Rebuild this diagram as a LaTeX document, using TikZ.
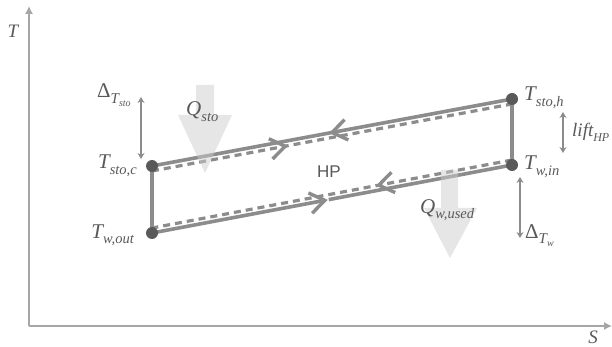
\documentclass[tikz,border=0pt]{standalone}
\usepackage{fontspec}
\setmainfont{Liberation Serif}
\setsansfont{Liberation Sans}
\usetikzlibrary{arrows.meta,calc}
\definecolor{axisc}{HTML}{A6A6A6}
\definecolor{linec}{HTML}{8C8C8C}
\definecolor{dotc}{HTML}{595959}
\definecolor{txtc}{HTML}{595959}
\definecolor{bigc}{HTML}{CDCDCD}
\newcommand\lbT[2]{{\fontsize{21}{21}\selectfont\itshape #1}\raisebox{-5.5pt}{\fontsize{14.5}{14.5}\selectfont\itshape #2}}
\newcommand\lbL[2]{{\fontsize{19}{19}\selectfont\itshape #1}\raisebox{-5pt}{\fontsize{12}{12}\selectfont\itshape #2}}
\newcommand\lbD[2]{{\fontsize{21}{21}\selectfont Δ}\raisebox{-5.5pt}{\fontsize{15}{15}\selectfont\itshape #1\raisebox{-3pt}{\fontsize{10}{10}\selectfont #2}}}
\begin{document}
\begin{tikzpicture}[x=1pt,y=-1pt,
  lbl/.style={text=txtc, inner sep=0pt},
  solidl/.style={draw=linec, line width=3.6pt},
  dashl/.style={draw=linec, line width=3.2pt, dash pattern=on 7pt off 5pt},
  vl/.style={draw=linec, line width=3.6pt},
  chevl/.style={draw=linec, line width=3.4pt, line join=miter},
  dotn/.style={circle, fill=dotc, minimum size=12pt, inner sep=0pt},
  bigarr/.style={fill=bigc, fill opacity=0.5, draw=none},
  dbl/.style={draw=linec, line width=1.3pt, {Stealth[length=6pt,width=7pt]}-{Stealth[length=6pt,width=7pt]}},
  axisl/.style={draw=axisc, line width=1.3pt, -{Latex[length=8pt,width=8pt]}}
]
\useasboundingbox (0,0) rectangle (612,347);
% axes
\coordinate (o) at (29,326);
\coordinate (ytop) at (29,6);
\coordinate (xend) at (612,326);
\draw[axisl] (o) -- (ytop);
\draw[axisl] (o) -- (xend);
\node[lbl, font=\fontsize{19}{19}\selectfont\itshape] (tlab) at (13,31) {T};
\node[lbl, font=\fontsize{19}{19}\selectfont\itshape] (slab) at (593,337) {S};
% state points
\coordinate (tsc) at (152,166);
\coordinate (tsh) at (512,99);
\coordinate (two) at (152,233);
\coordinate (twi) at (512,165);
\coordinate (tsc2) at ($(tsc)+(0,5)$);
\coordinate (tsh2) at ($(tsh)+(0,5)$);
\coordinate (two2) at ($(two)+(0,-5)$);
\coordinate (twi2) at ($(twi)+(0,-5)$);
\coordinate (m1) at ($(tsh)!0.5!(tsc)$);
\coordinate (m2) at ($(tsc2)!0.37!(tsh2)$);
\coordinate (m3) at ($(two)!0.48!(twi)$);
\coordinate (m4) at ($(twi2)!0.37!(two2)$);
% lines
\draw[solidl] (tsh) -- (tsc);
\draw[dashl] (tsc2) -- (tsh2);
\draw[solidl] (two) -- (m3);
\draw[solidl] ($(m3)!4pt!(twi)$) -- (twi);
\draw[dashl] (twi2) -- (two2);
\draw[vl] (tsc) -- (two);
\draw[vl] (tsh) -- (twi);
% chevron heads
\draw[chevl] ($(m1)!18pt!35:(tsh)$) -- (m1) -- ($(m1)!18pt!-35:(tsh)$);
\draw[chevl] ($(m2)!18pt!35:(tsc2)$) -- (m2) -- ($(m2)!18pt!-35:(tsc2)$);
\draw[chevl] ($(m3)!18pt!35:(two)$) -- (m3) -- ($(m3)!18pt!-35:(two)$);
\draw[chevl] ($(m4)!18pt!35:(twi2)$) -- (m4) -- ($(m4)!18pt!-35:(twi2)$);
% big heat arrows
\path[bigarr] (196,85) -- (214,85) -- (214,115) -- (232,115) -- (205,173) -- (178,115) -- (196,115) -- cycle;
\path[bigarr] (441,170) -- (458,170) -- (458,208) -- (477,208) -- (450,258) -- (424,208) -- (441,208) -- cycle;
% dots
\node[dotn] (dtsc) at (tsc) {};
\node[dotn] (dtsh) at (tsh) {};
\node[dotn] (dtwo) at (two) {};
\node[dotn] (dtwi) at (twi) {};
% double arrows
\coordinate (ds1) at (141,97);
\coordinate (ds2) at (141,159);
\draw[dbl] (ds1) -- (ds2);
\coordinate (lh1) at (563,112);
\coordinate (lh2) at (563,153);
\draw[dbl] (lh1) -- (lh2);
\coordinate (dw1) at (520,177);
\coordinate (dw2) at (520,238);
\draw[dbl] (dw1) -- (dw2);
% labels
\node[lbl, anchor=base west] (ldts) at (97,98) {\lbD{T}{sto}};
\node[lbl, anchor=base east] (ltsc) at (137,169) {\lbT{T}{sto,c}};
\node[lbl, anchor=base east] (ltwo) at (134,238) {\lbT{T}{w,out}};
\node[lbl, anchor=base west] (ltsh) at (524,101) {\lbT{T}{sto,h}};
\node[lbl, anchor=base west] (ltwi) at (524,170) {\lbT{T}{w,in}};
\node[lbl, anchor=base west] (llift) at (572,137) {\lbL{lift}{HP}};
\node[lbl, anchor=base west] (ldtw) at (525,238) {\lbD{T}{w}};
\node[lbl, anchor=base west] (lqs) at (186,116) {\lbT{Q}{sto}};
\node[lbl, anchor=base west] (lqw) at (420,213) {\lbT{Q}{w,used}};
\node[lbl, font=\sffamily\fontsize{17}{17}\selectfont] (hp) at (329,172) {HP};
\end{tikzpicture}
\end{document}
